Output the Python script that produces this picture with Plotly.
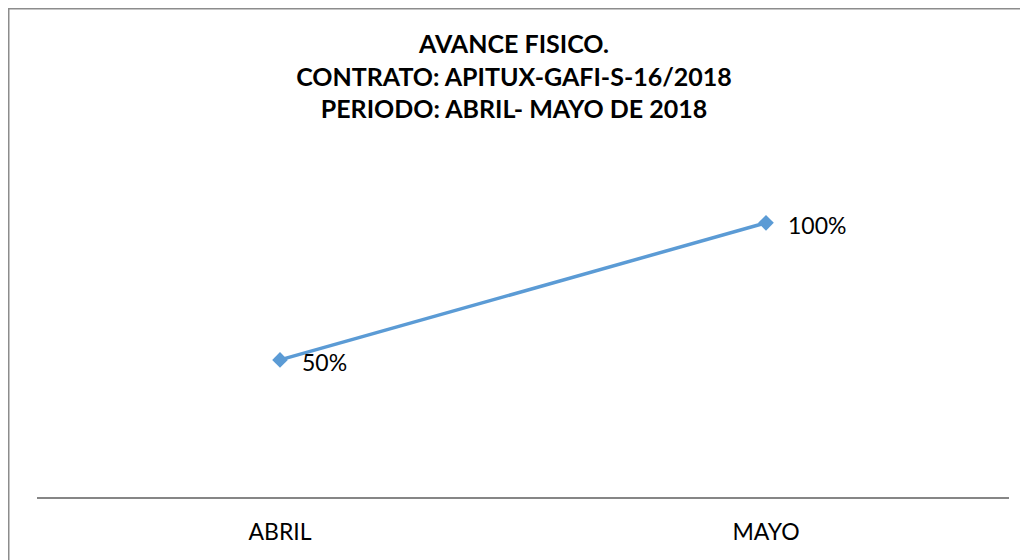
import plotly.graph_objects as go

categories = ["ABRIL", "MAYO"]
values = [0.50, 1.00]
value_labels = ["50%", "100%"]
title_lines = ["AVANCE FISICO.", "CONTRATO: APITUX-GAFI-S-16/2018", "PERIODO: ABRIL- MAYO DE 2018"]

# page body has an 8px margin, so the figure is sized/offset to compensate
W, H = 1020, 552
L, R, T, B = 29, 19, 160, 63
pw, ph = W - L - R, H - T - B

FONT = "Lato"
BLUE = "#5B9BD5"

fig = go.Figure()
fig.add_trace(go.Scatter(
    x=categories, y=values, mode="lines+markers",
    line=dict(color=BLUE, width=3.5),
    marker=dict(symbol="diamond", size=12, color=BLUE),
    hoverinfo="skip", showlegend=False, cliponaxis=False,
))

for c, v, t in zip(categories, values, value_labels):
    fig.add_annotation(x=c, y=v, text=t, showarrow=False, xanchor="left",
                       yanchor="middle", xshift=20, yshift=-2,
                       font=dict(family=FONT, size=23, color="#000000"))

fig.update_layout(
    width=W, height=H,
    margin=dict(l=L, r=R, t=T, b=B),
    paper_bgcolor="white", plot_bgcolor="white",
    title=dict(text="<br>".join(f"<b>{s}</b>" for s in title_lines),
               x=(514 - 8) / W, xref="container", xanchor="center",
               y=1 - 45 / H, yref="container", yanchor="top",
               font=dict(family=FONT, size=25, color="#000000")),
    xaxis=dict(type="category", range=[-0.5, 1.5], showgrid=False,
               showline=True, linecolor="#868686", linewidth=1.5,
               ticks="", tickfont=dict(family=FONT, size=23, color="#000000"),
               ticklabelstandoff=14, fixedrange=True),
    yaxis=dict(range=[0, 1.2], visible=False, fixedrange=True),
    shapes=[dict(type="rect", xref="paper", yref="paper",
                 x0=(0.75 - L) / pw, x1=(W + 20 - L) / pw,
                 y0=-(B + 20) / ph, y1=(H - B - 0.75) / ph,
                 line=dict(color="#8C8C8C", width=1.5), fillcolor="rgba(0,0,0,0)",
                 layer="below")],
)

fig.write_html("out.html")
